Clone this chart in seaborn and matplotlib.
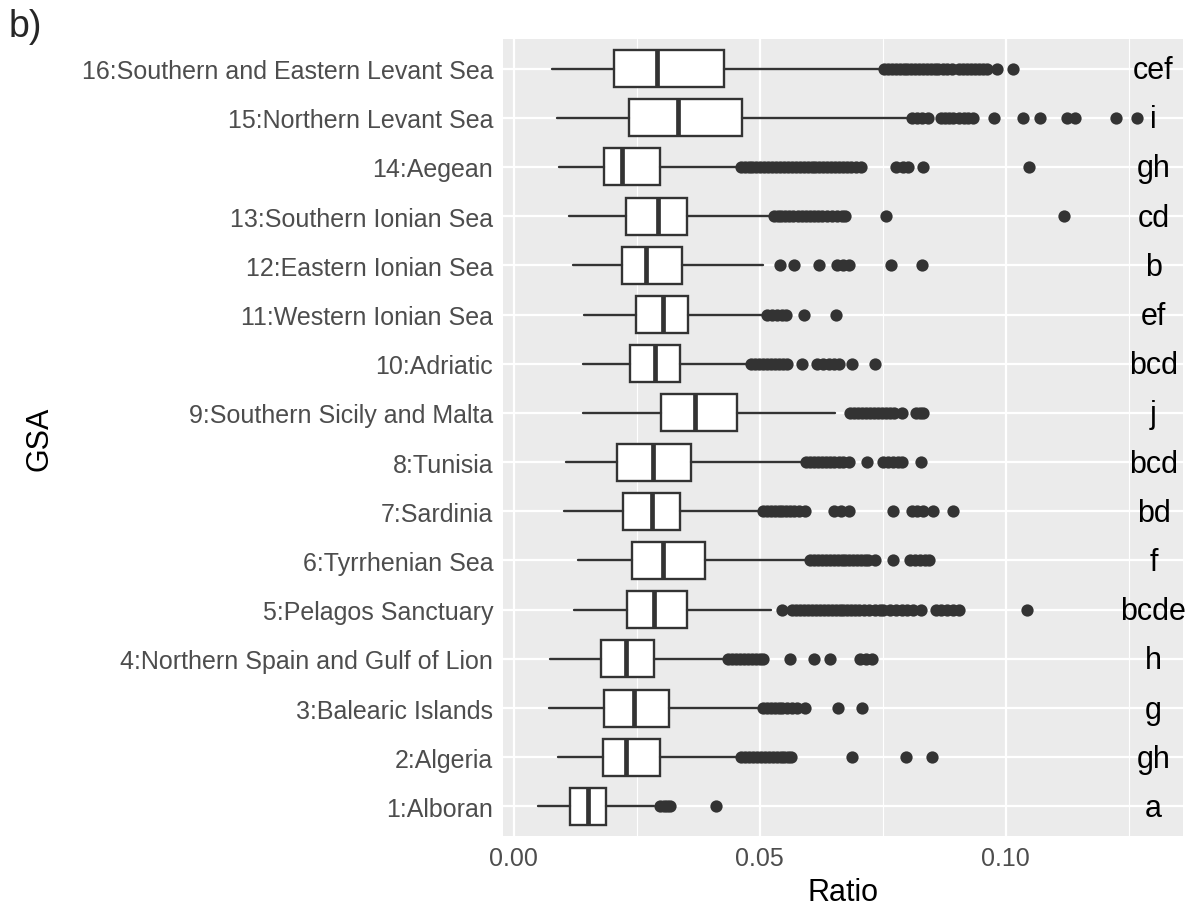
import numpy as np
import pandas as pd
import seaborn as sns
import matplotlib.pyplot as plt

# GSA areas, bottom (1) to top (16)
gsa = ["1:Alboran", "2:Algeria", "3:Balearic Islands",
       "4:Northern Spain and Gulf of Lion", "5:Pelagos Sanctuary",
       "6:Tyrrhenian Sea", "7:Sardinia", "8:Tunisia",
       "9:Southern Sicily and Malta", "10:Adriatic", "11:Western Ionian Sea",
       "12:Eastern Ionian Sea", "13:Southern Ionian Sea", "14:Aegean",
       "15:Northern Levant Sea", "16:Southern and Eastern Levant Sea"]
letters = ["a", "gh", "g", "h", "bcde", "f", "bd", "bcd",
           "j", "bcd", "ef", "b", "cd", "gh", "i", "cef"]

# box summaries
whisker_lo = [0.0050, 0.0090, 0.0071, 0.0073, 0.0123, 0.0130, 0.0102, 0.0107,
              0.0140, 0.0141, 0.0143, 0.0121, 0.0113, 0.0091, 0.0087, 0.0077]
q1 = [0.0115, 0.0181, 0.0183, 0.0178, 0.0230, 0.0241, 0.0222, 0.0209,
      0.0299, 0.0237, 0.0248, 0.0220, 0.0228, 0.0183, 0.0235, 0.0204]
median = [0.0150, 0.0227, 0.0244, 0.0227, 0.0284, 0.0304, 0.0280, 0.0282,
          0.0369, 0.0286, 0.0304, 0.0268, 0.0292, 0.0220, 0.0333, 0.0290]
q3 = [0.0188, 0.0297, 0.0315, 0.0284, 0.0352, 0.0389, 0.0338, 0.0361,
      0.0453, 0.0337, 0.0355, 0.0341, 0.0351, 0.0297, 0.0463, 0.0427]
whisker_hi = [0.0284, 0.0459, 0.0502, 0.0434, 0.0523, 0.0600, 0.0502, 0.0592,
              0.0652, 0.0481, 0.0510, 0.0506, 0.0519, 0.0459, 0.0805, 0.0750]

outliers = [
    [0.0297, 0.0305, 0.0312, 0.0318, 0.0410],
    [0.0462, 0.0470, 0.0478, 0.0486, 0.0494, 0.0502, 0.0510, 0.0518, 0.0526,
     0.0534, 0.0542, 0.0550, 0.0558, 0.0564, 0.0687, 0.0797, 0.0849],
    [0.0506, 0.0514, 0.0522, 0.0530, 0.0538, 0.0546, 0.0556, 0.0566, 0.0575,
     0.0592, 0.0658, 0.0707],
    [0.0436, 0.0444, 0.0452, 0.0460, 0.0468, 0.0476, 0.0484, 0.0492, 0.0500,
     0.0506, 0.0562, 0.0610, 0.0643, 0.0703, 0.0715, 0.0728],
    [0.0545, 0.0566, 0.0574, 0.0582, 0.0590, 0.0598, 0.0606, 0.0614, 0.0622,
     0.0630, 0.0638, 0.0646, 0.0654, 0.0662, 0.0670, 0.0678, 0.0686, 0.0694,
     0.0702, 0.0712, 0.0722, 0.0734, 0.0744, 0.0750, 0.0765, 0.0777, 0.0789,
     0.0800, 0.0812, 0.0827, 0.0857, 0.0868, 0.0880, 0.0892, 0.0904, 0.1043],
    [0.0602, 0.0610, 0.0618, 0.0626, 0.0634, 0.0642, 0.0650, 0.0658, 0.0666,
     0.0674, 0.0682, 0.0690, 0.0698, 0.0706, 0.0714, 0.0720, 0.0734, 0.0771,
     0.0805, 0.0815, 0.0825, 0.0835, 0.0844],
    [0.0506, 0.0514, 0.0522, 0.0530, 0.0538, 0.0546, 0.0554, 0.0562, 0.0570,
     0.0580, 0.0592, 0.0651, 0.0665, 0.0681, 0.0771, 0.0810, 0.0820, 0.0831,
     0.0852, 0.0893],
    [0.0594, 0.0602, 0.0610, 0.0618, 0.0626, 0.0634, 0.0642, 0.0650, 0.0660,
     0.0670, 0.0681, 0.0718, 0.0750, 0.0760, 0.0770, 0.0780, 0.0788, 0.0827],
    [0.0684, 0.0692, 0.0700, 0.0708, 0.0716, 0.0724, 0.0732, 0.0740, 0.0748,
     0.0756, 0.0764, 0.0772, 0.0788, 0.0818, 0.0826, 0.0831],
    [0.0483, 0.0491, 0.0499, 0.0507, 0.0515, 0.0523, 0.0531, 0.0539, 0.0547,
     0.0555, 0.0585, 0.0617, 0.0628, 0.0640, 0.0650, 0.0660, 0.0688, 0.0734],
    [0.0515, 0.0525, 0.0535, 0.0545, 0.0553, 0.0590, 0.0654],
    [0.0540, 0.0570, 0.0620, 0.0656, 0.0668, 0.0681, 0.0767, 0.0829],
    [0.0528, 0.0536, 0.0544, 0.0552, 0.0560, 0.0568, 0.0578, 0.0586, 0.0594,
     0.0602, 0.0610, 0.0618, 0.0626, 0.0636, 0.0646, 0.0656, 0.0666, 0.0673,
     0.0756, 0.1119],
    [0.0461, 0.0469, 0.0477, 0.0485, 0.0493, 0.0501, 0.0509, 0.0517, 0.0525,
     0.0533, 0.0541, 0.0549, 0.0557, 0.0565, 0.0573, 0.0581, 0.0589, 0.0597,
     0.0605, 0.0613, 0.0621, 0.0629, 0.0637, 0.0645, 0.0653, 0.0661, 0.0669,
     0.0677, 0.0685, 0.0695, 0.0705, 0.0776, 0.0790, 0.0801, 0.0831, 0.1047],
    [0.0810, 0.0820, 0.0830, 0.0842, 0.0868, 0.0876, 0.0884, 0.0892, 0.0904,
     0.0914, 0.0924, 0.0934, 0.0975, 0.1034, 0.1070, 0.1124, 0.1140, 0.1224,
     0.1267],
    [0.0752, 0.0760, 0.0768, 0.0776, 0.0784, 0.0792, 0.0800, 0.0808, 0.0816,
     0.0824, 0.0832, 0.0840, 0.0848, 0.0856, 0.0862, 0.0872, 0.0880, 0.0890,
     0.0905, 0.0913, 0.0921, 0.0929, 0.0937, 0.0945, 0.0953, 0.0962, 0.0982,
     0.1015],
]

sns.set_theme(style="darkgrid", rc={"axes.facecolor": "#EBEBEB",
                                    "grid.color": "white",
                                    "figure.facecolor": "white"})
plt.rcParams["font.family"] = ["Liberation Sans", "DejaVu Sans"]

pos = np.arange(1, len(gsa) + 1)
stats = [dict(whislo=whisker_lo[i], q1=q1[i], med=median[i], q3=q3[i],
              whishi=whisker_hi[i], fliers=[], label=gsa[i])
         for i in range(len(gsa))]

fig = plt.figure(figsize=(11.95, 9.12), dpi=100)
ax = fig.add_axes([503 / 1195, 1 - 837 / 912, 680 / 1195, 797 / 912])

dark = "#333333"
ax.bxp(stats, positions=pos, widths=0.75, orientation="horizontal",
       patch_artist=True, showcaps=False, showfliers=False,
       boxprops=dict(facecolor="white", edgecolor=dark, linewidth=1.7),
       whiskerprops=dict(color=dark, linewidth=1.7),
       medianprops=dict(color=dark, linewidth=3.4))

out_df = pd.DataFrame({
    "Ratio": [v for vals in outliers for v in vals],
    "pos": [p for p, vals in zip(pos, outliers) for _ in vals],
})
sns.scatterplot(data=out_df, x="Ratio", y="pos", color=dark, s=78,
                linewidth=0, ax=ax, zorder=3, legend=False)

for p, lab in zip(pos, letters):
    ax.text(0.13, p - 0.03, lab, ha="center", va="center", fontsize=22,
            color="black")

ax.set_xlim(-0.0022, 0.1360)
ax.set_ylim(0.4, 16.6)
ax.set_xticks([0.0, 0.05, 0.10], ["0.00", "0.05", "0.10"])
ax.set_xticks([0.025, 0.075, 0.125], minor=True)
ax.set_yticks(pos, gsa)
ax.grid(which="major", color="white", linewidth=1.6)
ax.grid(which="minor", axis="x", color="white", linewidth=0.8)
ax.tick_params(which="major", length=4.5, width=1.1, color=dark,
               labelcolor="#4D4D4D", labelsize=18, pad=2.5)
ax.tick_params(which="minor", length=0)
for s in ax.spines.values():
    s.set_visible(False)

ax.set_xlabel("Ratio", fontsize=22, color="black")
ax.set_ylabel("GSA", fontsize=22, color="black")
ax.xaxis.set_label_coords(0.5, -0.052)
ax.yaxis.set_label_coords(-0.66, 0.5)

fig.text(0.007, 0.99, "b)", fontsize=27, va="top", ha="left")

fig.savefig("out.png", dpi=100)
